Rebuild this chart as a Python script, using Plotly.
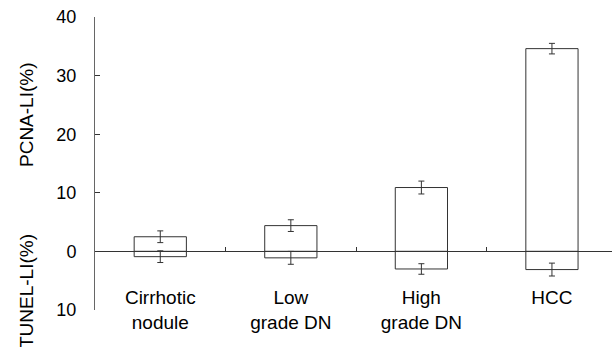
import plotly.graph_objects as go

categories = ["Cirrhotic<br>nodule", "Low<br>grade DN", "High<br>grade DN", "HCC"]
pcna_values = [2.5, 4.4, 10.9, 34.6]
pcna_errors = [1.0, 1.0, 1.1, 0.9]
tunel_values = [0.9, 1.1, 3.0, 3.1]
tunel_errors = [1.0, 1.1, 0.9, 1.1]
y_tick_vals = [-10, 0, 10, 20, 30, 40]
y_tick_text = ["10", "0", "10", "20", "30", "40"]

FONT = "Liberation Sans, Arial, sans-serif"
LINE = "#333333"

fig = go.Figure()
fig.add_trace(go.Bar(
    x=categories, y=pcna_values, width=0.4,
    marker=dict(color="rgba(0,0,0,0)", line=dict(color=LINE, width=1)),
    error_y=dict(type="data", array=pcna_errors, color=LINE, thickness=1, width=3),
))
fig.add_trace(go.Bar(
    x=categories, y=[-v for v in tunel_values], width=0.4,
    marker=dict(color="rgba(0,0,0,0)", line=dict(color=LINE, width=1)),
    error_y=dict(type="data", array=tunel_errors, color=LINE, thickness=1, width=3),
))

fig.update_layout(
    width=612, height=347,
    margin=dict(l=95, r=0, t=17, b=37),
    paper_bgcolor="white", plot_bgcolor="white",
    barmode="overlay", showlegend=False,
    font=dict(family=FONT, size=18, color="black"),
    xaxis=dict(
        type="category", range=[-0.5, 3.46],
        anchor="free", position=0.2,
        showline=True, linecolor=LINE, linewidth=1,
        tickson="boundaries", ticks="inside", ticklen=4, tickcolor=LINE,
        ticklabelstandoff=29,
        showgrid=False, zeroline=False,
        tickfont=dict(family=FONT, size=19),
    ),
    yaxis=dict(
        range=[-10, 40], tickvals=y_tick_vals, ticktext=y_tick_text,
        showline=True, linecolor="#666666", linewidth=1,
        ticks="inside", ticklen=5, tickcolor=LINE,
        ticklabelstandoff=14,
        showgrid=False, zeroline=False,
        tickfont=dict(family=FONT, size=18),
    ),
)

fig.add_annotation(text="PCNA-LI(%)", textangle=-90, xref="paper", yref="paper",
                   x=(26 - 95) / 517, y=(310 - 115) / 293, showarrow=False,
                   xanchor="center", yanchor="middle", font=dict(size=19))
fig.add_annotation(text="TUNEL-LI(%)", textangle=-90, xref="paper", yref="paper",
                   x=(26 - 95) / 517, y=(310 - 291) / 293, showarrow=False,
                   xanchor="center", yanchor="middle", font=dict(size=19))

fig.write_html("out.html")
